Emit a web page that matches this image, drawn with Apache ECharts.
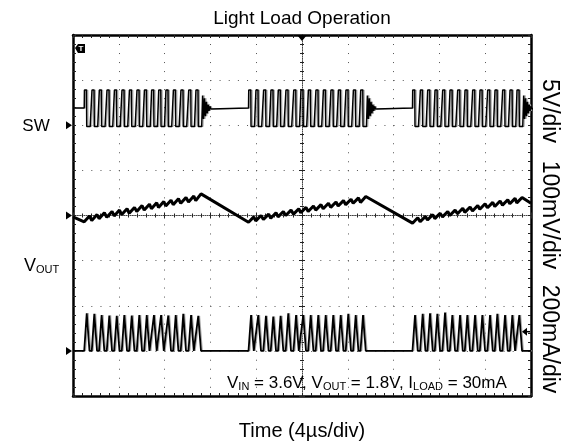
<!DOCTYPE html>
<html><head><meta charset="utf-8">
<script src="https://cdn.jsdelivr.net/npm/echarts@6/dist/echarts.min.js"></script>
<style>html,body{margin:0;padding:0;background:#fff}#c{width:569px;height:447px}</style>
</head><body><div id="c"></div>
<script>
// ---- data read from the scope shot (time in µs, 4 µs/div, 10 div) ----
// time of each inductor-current peak, per burst
const burst1Peaks = [1.20, 1.86, 2.50, 3.17, 3.82, 4.48, 5.13, 5.79, 6.44, 7.07, 7.69, 8.32, 8.97, 9.63, 10.31, 10.94];
const burst2Peaks = [15.55, 16.18, 16.85, 17.49, 18.13, 18.80, 19.48, 20.11, 20.76, 21.42, 22.07, 22.73, 23.38, 24.04, 24.69, 25.33];
const burst3Peaks = [29.87, 30.54, 31.18, 31.82, 32.49, 33.13, 33.80, 34.44, 35.11, 35.75, 36.42, 37.06, 37.73, 38.37, 38.98];
// inductor current peak of each pulse (mA)
const burst1IL = [167, 164, 159, 157, 155, 159, 157, 159, 159, 159, 159, 157, 159, 164, 159, 155];
const burst2IL = [159, 159, 155, 152, 155, 167, 159, 159, 159, 159, 159, 159, 159, 164, 159, 159];
const burst3IL = [159, 164, 167, 164, 170, 159, 159, 159, 159, 159, 159, 164, 159, 159, 159];
// output ripple (mV, AC) : valley before / crest after each pulse
const burst1VoutLow  = [-14, -11, -7, -4, -1, 2, 5, 9, 12, 15, 18, 21, 24, 27, 30, 33];
const burst1VoutHigh = [-1, 2, 6, 9, 12, 15, 18, 22, 25, 28, 31, 34, 37, 40, 43, 48];
const burst2VoutLow  = [-15, -12, -9, -6, -3, 0, 3, 6, 9, 12, 15, 18, 21, 24, 27, 29];
const burst2VoutHigh = [-3, 0, 3, 6, 9, 12, 15, 18, 21, 24, 27, 30, 33, 36, 39, 42];
const burst3VoutLow  = [-17, -14, -10, -7, -3, 0, 4, 7, 10, 14, 17, 20, 23, 26, 28];
const burst3VoutHigh = [-5, -2, 2, 5, 9, 12, 16, 19, 22, 26, 29, 32, 35, 38, 40];
const voutEnds = [-3, 27];            // ripple at left / right screen edge (mV)
// switch node levels (V): idle (≈Vout), high (≈Vin), low
const swLevels = [1.9, 3.9, -0.15];
// damped ringing of SW after each burst (V), one sample per 0.08 µs
const swRing = [3.3, 0.7, 3.0, 1.0, 2.6, 1.3, 2.3, 1.6, 2.1, 1.8, 2.0, 1.9];
const ilTriggerLevel = 85;            // mA, arrow on the right
const triggerTime = 20;               // µs, marker on top
// channel scales (units per div) and ground positions (div from centre)
const chScale = { sw: 5, vout: 100, il: 200 };
const chOffset = { sw: 2, vout: 0, il: -3 };

// ---- build series ----
const bursts = [
  { tp: burst1Peaks, il: burst1IL, lo: burst1VoutLow, hi: burst1VoutHigh },
  { tp: burst2Peaks, il: burst2IL, lo: burst2VoutLow, hi: burst2VoutHigh },
  { tp: burst3Peaks, il: burst3IL, lo: burst3VoutLow, hi: burst3VoutHigh }
];
const RISE = 0.22, FALL = 0.24, LOWW = 0.30, RING_DT = 0.08, TMAX = 40;
const [swIdle, swHigh, swLow] = swLevels;

function swPoints(shift) {
  const pts = [[0, swIdle]];
  bursts.forEach(b => {
    b.tp.forEach((tp, i) => {
      pts.push([tp - RISE, i === 0 ? swIdle : swLow], [tp - RISE + 0.02, swHigh],
               [tp - 0.02, swHigh], [tp, swLow], [tp + LOWW, swLow]);
    });
    const tEnd = b.tp[b.tp.length - 1] + LOWW;
    swRing.forEach((v, k) => pts.push([tEnd + (k + 1) * RING_DT, v]));
  });
  if (pts[pts.length - 1][0] < TMAX) pts.push([TMAX, swIdle]);
  return pts.map(p => [p[0] + shift, chOffset.sw + p[1] / chScale.sw]);
}
function ilPoints(shift) {
  const pts = [[0, 0]];
  bursts.forEach(b => b.tp.forEach((tp, i) => pts.push([tp - RISE, 0], [tp, b.il[i]], [tp + FALL, 0])));
  pts.push([TMAX, 0]);
  return pts.map(p => [p[0] + shift, chOffset.il + p[1] / chScale.il]);
}
function voutPoints() {
  const pts = [[0, voutEnds[0]]];
  bursts.forEach(b => b.tp.forEach((tp, i) => pts.push([tp - RISE, b.lo[i]], [tp + FALL, b.hi[i]])));
  pts.push([TMAX, voutEnds[1]]);
  return pts.map(p => [p[0], chOffset.vout + p[1] / chScale.vout]);
}

const FONT = 'Liberation Sans, Arial, Helvetica, sans-serif';
const chart = echarts.init(document.getElementById('c'), null, { renderer: 'canvas' });

const frameLine = { show: true, onZero: false, lineStyle: { color: '#000', width: 2.5 } };
const noLabel = { show: false };
const gridDotX = { show: true, lineStyle: { color: '#555', width: 1, type: [1, 8.02] } };
const gridDotY = { show: true, lineStyle: { color: '#555', width: 1, type: [1, 8.16] } };
const centreLine = { show: true, onZero: true, lineStyle: { color: '#444', width: 1, type: [1, 1.2] } };
const tick = (inside, len) => ({ show: true, inside, length: len, lineStyle: { color: '#222' } });
const minor = (len) => ({ show: true, splitNumber: 5, length: len, lineStyle: { color: '#222' } });

function lineSeries(data, color, width, z) {
  return { type: 'line', data, xAxisIndex: 0, yAxisIndex: 0, showSymbol: false, symbol: 'none',
           lineStyle: { color, width }, z, silent: true, animation: false, clip: true };
}

chart.setOption({
  animation: false,
  backgroundColor: '#fff',
  grid: { left: 73, top: 35, width: 458, height: 361, containLabel: false },
  xAxis: [
    { type: 'value', min: 0, max: TMAX, interval: 4, position: 'bottom', axisLine: frameLine,
      axisTick: tick(true, 3), minorTick: minor(3), axisLabel: noLabel, splitLine: gridDotX },
    { type: 'value', min: 0, max: TMAX, interval: 4, position: 'top', axisLine: frameLine,
      axisTick: tick(true, 3), minorTick: minor(3), axisLabel: noLabel, splitLine: { show: false } },
    { type: 'value', min: 0, max: TMAX, interval: 4, position: 'bottom', axisLine: centreLine,
      axisTick: tick(true, 3), minorTick: minor(2), axisLabel: noLabel, splitLine: { show: false } },
    { type: 'value', min: 0, max: TMAX, interval: 4, position: 'bottom',
      axisLine: { show: false, onZero: true },
      axisTick: tick(false, 3), minorTick: minor(2), axisLabel: noLabel, splitLine: { show: false } },
    { type: 'value', min: -TMAX / 2, max: TMAX / 2, show: false }
  ],
  yAxis: [
    { type: 'value', min: -4, max: 4, interval: 1, position: 'left', axisLine: frameLine,
      axisTick: tick(true, 3), minorTick: minor(3), axisLabel: noLabel, splitLine: gridDotY },
    { type: 'value', min: -4, max: 4, interval: 1, position: 'right', axisLine: frameLine,
      axisTick: tick(true, 3), minorTick: minor(3), axisLabel: noLabel, splitLine: { show: false } },
    { type: 'value', min: -4, max: 4, interval: 1, position: 'left',
      axisLine: Object.assign({}, centreLine, { onZeroAxisIndex: 4 }),
      axisTick: tick(true, 3), minorTick: minor(2), axisLabel: noLabel, splitLine: { show: false } },
    { type: 'value', min: -4, max: 4, interval: 1, position: 'left',
      axisLine: { show: false, onZero: true, onZeroAxisIndex: 4 },
      axisTick: tick(false, 3), minorTick: minor(2), axisLabel: noLabel, splitLine: { show: false } }
  ],
  series: [
    lineSeries(swPoints(0.12), '#a8a8a8', 1, 2),
    lineSeries(ilPoints(0.12), '#a8a8a8', 1, 2),
    lineSeries(swPoints(0), '#000', 1.5, 3),
    lineSeries(ilPoints(0), '#000', 1.8, 3),
    lineSeries(voutPoints(), '#000', 3, 3)
  ]
});

// ---- markers & text placed through the axes ----
const toPx = (t, y) => chart.convertToPixel({ xAxisIndex: 0, yAxisIndex: 0 }, [t, y]);
const gnd = {
  sw: toPx(0, chOffset.sw), vout: toPx(0, chOffset.vout), il: toPx(0, chOffset.il)
};
const trig = toPx(triggerTime, 4);
const ilTrig = toPx(TMAX, chOffset.il + ilTriggerLevel / chScale.il);
const gL = (p) => ({ type: 'polygon', shape: { points: [[p[0] - 7, p[1] - 4], [p[0] - 1, p[1]], [p[0] - 7, p[1] + 4]] },
                     style: { fill: '#000' }, z: 10 });
const txt = (x, y, text, size, extra) => Object.assign({ type: 'text', x, y, z: 10,
  style: { text, fill: '#000', font: size + 'px ' + FONT, fontSize: size, fontFamily: FONT,
           align: 'center', verticalAlign: 'middle', textAlign: 'center', textVerticalAlign: 'middle' } }, extra || {});
const sub = (x, y, parts, size, subSize, align) => ({
  type: 'text', x, y, z: 10,
  style: {
    text: parts.map(p => p[1] ? '{s|' + p[0] + '}' : '{m|' + p[0] + '}').join(''),
    align: align || 'left', verticalAlign: 'middle', fill: '#000', fontFamily: FONT,
    rich: {
      m: { fontSize: size, fontFamily: FONT, fill: '#000', lineHeight: size + 3, verticalAlign: 'bottom' },
      s: { fontSize: subSize, fontFamily: FONT, fill: '#000', lineHeight: subSize + 1, verticalAlign: 'bottom' }
    }
  }
});

chart.setOption({
  graphic: [
    txt(302, 19, 'Light Load Operation', 19),
    txt(302, 431, 'Time (4µs/div)', 20),
    txt(36, gnd.sw[1] + 1, 'SW', 17),
    sub(24, 265, [['V', 0], ['OUT', 1]], 18, 11),
    txt(549, 111, '5V/div', 23, { rotation: -Math.PI / 2 }),
    txt(549, 215, '100mV/div', 23, { rotation: -Math.PI / 2 }),
    txt(549, 339, '200mA/div', 23, { rotation: -Math.PI / 2 }),
    sub(227, 382, [['V', 0], ['IN', 1], [' = 3.6V, V', 0], ['OUT', 1], [' = 1.8V, I', 0], ['LOAD', 1], [' = 30mA', 0]], 17, 11),
    gL(gnd.sw), gL(gnd.vout), gL(gnd.il),
    { type: 'polygon', z: 10, shape: { points: [[trig[0] - 5, trig[1]], [trig[0] + 5, trig[1]], [trig[0], trig[1] + 6]] }, style: { fill: '#000' } },
    { type: 'polygon', z: 10, shape: { points: [[ilTrig[0] - 9, ilTrig[1]], [ilTrig[0] - 4, ilTrig[1] - 4], [ilTrig[0] - 4, ilTrig[1] + 4]] }, style: { fill: '#000' } },
    { type: 'line', z: 10, shape: { x1: ilTrig[0] - 5, y1: ilTrig[1], x2: ilTrig[0] - 1, y2: ilTrig[1] }, style: { stroke: '#000', lineWidth: 1.5 } },
    { type: 'group', z: 10, children: [
      { type: 'polygon', shape: { points: [[75, 48], [78, 44], [85, 44], [85, 53], [78, 53]] }, style: { fill: '#000' } },
      { type: 'text', x: 81, y: 48.5, style: { text: 'T', fill: '#fff', font: 'bold 8px ' + FONT, align: 'center', verticalAlign: 'middle', textAlign: 'center', textVerticalAlign: 'middle' } }
    ] }
  ]
});
</script></body></html>
